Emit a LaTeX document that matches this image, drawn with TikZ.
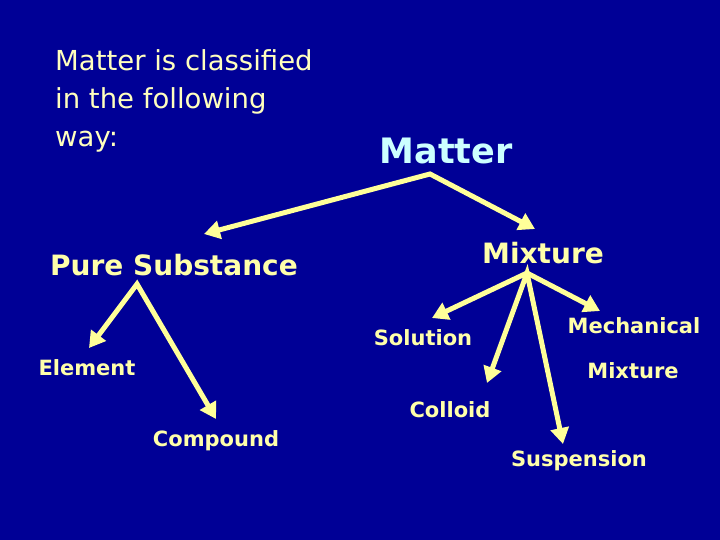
\documentclass[tikz,border=0pt]{standalone}
\usepackage{fontspec}
\setmainfont{DejaVu Sans}
\usetikzlibrary{arrows.meta}
\definecolor{bgblue}{RGB}{0,0,150}
\definecolor{arrowyel}{RGB}{255,255,153}
\definecolor{labyel}{RGB}{255,255,170}
\definecolor{introyel}{RGB}{255,255,190}
\definecolor{titlecyan}{RGB}{204,255,255}
\tikzset{
  intro/.style={anchor=base west, inner sep=0pt, text=introyel, font=\fontsize{27.5}{33}\selectfont},
  biglab/.style={anchor=base, inner sep=0pt, text=labyel, font=\fontsize{28}{33}\selectfont\bfseries},
  smalllab/.style={anchor=base, inner sep=0pt, text=labyel, font=\fontsize{21}{25}\selectfont\bfseries},
  branch/.style={draw=arrowyel, line width=5pt, line join=miter,
    {Triangle[length=16pt,width=18pt]}-{Triangle[length=16pt,width=18pt]}},
}
\begin{document}
\begin{tikzpicture}[x=1pt,y=-1pt]
\fill[bgblue] (0,0) rectangle (720,540);
\useasboundingbox (0,0) rectangle (720,540);
% intro text
\node[intro] (intro1) at (55,71) {Matter is classified};
\node[intro] (intro2) at (55,109) {in the following};
\node[intro] (intro3) at (55,147) {way:};
% labels
\node[anchor=base, inner sep=0pt, text=titlecyan, font=\fontsize{35}{40}\selectfont\bfseries] (matter) at (446,164) {Matter};
\node[biglab] (pure) at (174,275) {Pure Substance};
\node[biglab] (mixture) at (543,263) {Mixture};
\node[smalllab] (solution) at (423,345) {Solution};
\node[smalllab] (element) at (87,375) {Element};
\node[smalllab] (mech1) at (634,333) {Mechanical};
\node[smalllab] (mech2) at (633,378) {Mixture};
\node[smalllab] (colloid) at (450,417) {Colloid};
\node[smalllab] (compound) at (216,446) {Compound};
\node[smalllab] (suspension) at (579,466) {Suspension};
% arrow coordinates
\coordinate (mApex) at (430,174);
\coordinate (pureTip) at (204,234);
\coordinate (mixTip) at (535,229);
\coordinate (pApex) at (137,284);
\coordinate (elemTip) at (89,348);
\coordinate (compTip) at (216,419);
\coordinate (xApex) at (527,273);
\coordinate (solTip) at (432,318);
\coordinate (mechTip) at (600,311);
\coordinate (collTip) at (487,383);
\coordinate (suspTip) at (563,444);
% arrows
\draw[branch] (pureTip) -- (mApex) -- (mixTip);
\draw[branch] (elemTip) -- (pApex) -- (compTip);
\draw[branch] (solTip) -- (xApex) -- (mechTip);
\draw[branch] (collTip) -- (xApex) -- (suspTip);
\end{tikzpicture}
\end{document}
